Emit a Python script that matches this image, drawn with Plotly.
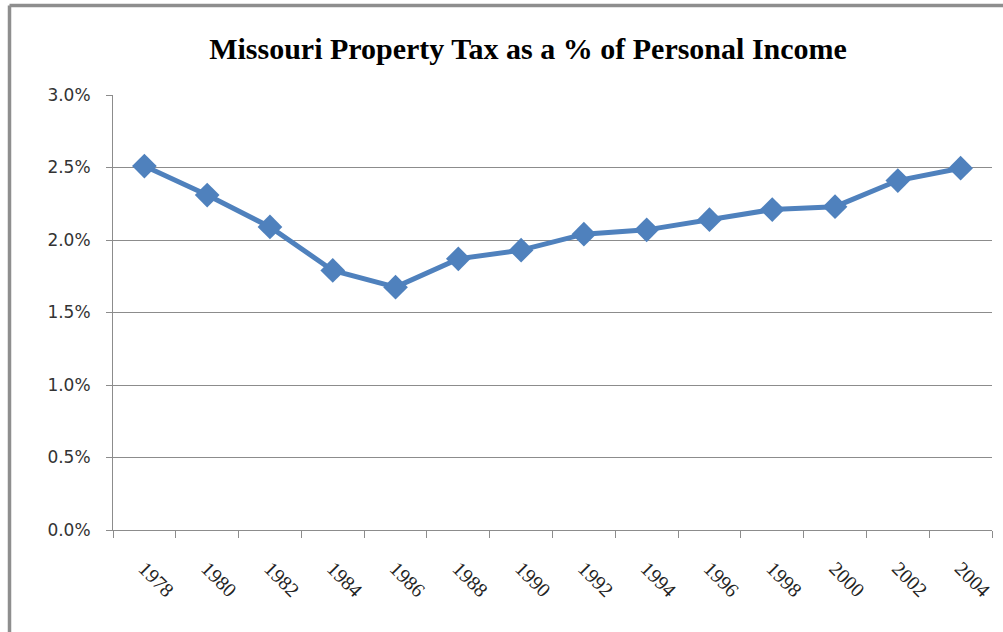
import plotly.graph_objects as go

years = ["1978", "1980", "1982", "1984", "1986", "1988", "1990",
         "1992", "1994", "1996", "1998", "2000", "2002", "2004"]
tax_pct = [2.51, 2.31, 2.09, 1.79, 1.675, 1.87, 1.93,
           2.04, 2.07, 2.14, 2.21, 2.23, 2.41, 2.495]
y_ticks = [0.0, 0.5, 1.0, 1.5, 2.0, 2.5, 3.0]
y_tick_labels = ["0.0%", "0.5%", "1.0%", "1.5%", "2.0%", "2.5%", "3.0%"]

title_text = "Missouri Property Tax as a % of Personal Income"

W, H = 1003, 632
ML, MR, MT, MB = 113, 11, 95, 102
PW, PH = W - ML - MR, H - MT - MB

fig = go.Figure()
fig.add_trace(go.Scatter(
    x=years, y=tax_pct, mode="lines+markers",
    line=dict(color="#4f81bd", width=5),
    marker=dict(symbol="diamond", size=19, color="#4f81bd"),
    showlegend=False, hoverinfo="x+y",
))

# outer frame (partially visible on left & top)
fx = (9.5 - ML) / PW
fy = 1 + (MT - 5.5) / PH
frame_col = "#8e8e8e"
fig.add_shape(type="line", xref="paper", yref="paper",
              x0=fx, x1=fx, y0=fy, y1=-1.0, line=dict(color=frame_col, width=3.5))
fig.add_shape(type="line", xref="paper", yref="paper",
              x0=fx, x1=1.5, y0=fy, y1=fy, line=dict(color=frame_col, width=3.5))

fig.update_layout(
    width=W, height=H,
    margin=dict(l=ML, r=MR, t=MT, b=MB, autoexpand=False),
    paper_bgcolor="white", plot_bgcolor="white",
    title=dict(text="<b>" + title_text + "</b>", x=528 / W, xref="container", xanchor="center",
               y=1 - 48 / H, yref="container", yanchor="middle",
               font=dict(family="Liberation Serif", size=30, color="black")),
    xaxis=dict(
        type="category", tickson="boundaries", ticks="outside", ticklen=7,
        tickcolor="#8c8c8c", showline=True, linecolor="#8c8c8c", linewidth=1,
        showgrid=False, tickangle=45, ticklabelstandoff=18, automargin=False,
        tickfont=dict(family="Liberation Serif, Times New Roman, serif", size=20, color="#222222"),
        range=[-0.5, len(years) - 0.5],
    ),
    yaxis=dict(
        range=[0, 3.0], tickvals=y_ticks, ticktext=y_tick_labels,
        ticks="outside", ticklen=6, tickcolor="#8c8c8c",
        showline=True, linecolor="#8c8c8c", linewidth=1,
        showgrid=True, gridcolor="#8c8c8c", gridwidth=1, zeroline=False,
        ticklabelstandoff=12, automargin=False,
        tickfont=dict(family="DejaVu Sans", size=17, color="#333333"),
    ),
)

fig.write_html("out.html", post_script="document.body.style.margin='0';",
               config={"displayModeBar": False})
